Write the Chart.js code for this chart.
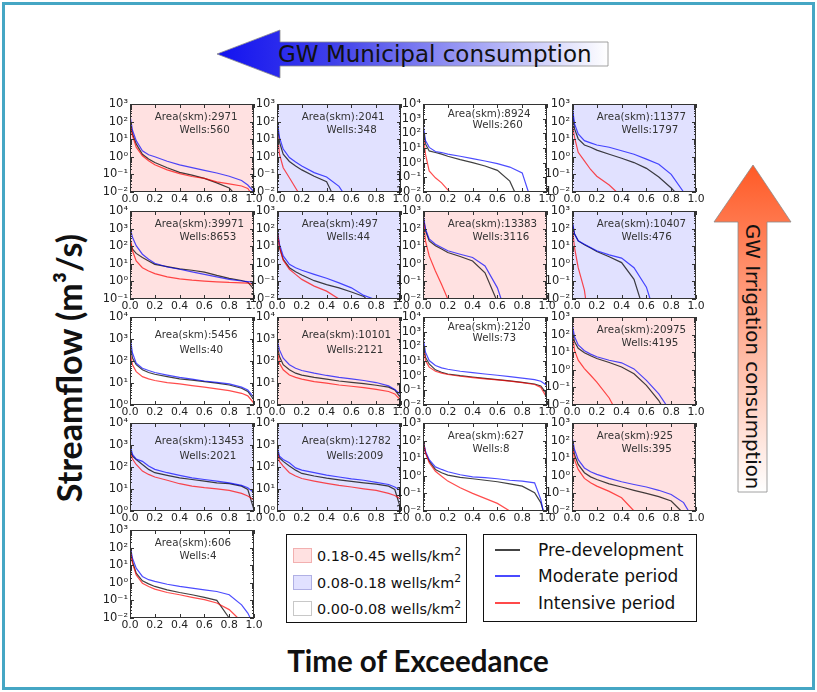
<!DOCTYPE html>
<html>
<head>
<meta charset="utf-8">
<script src="https://cdn.jsdelivr.net/npm/chart.js@4.4.1/dist/chart.umd.min.js"></script>
<style>
  body { margin: 0; width: 817px; height: 692px; background: #fff; position: relative; overflow: hidden; font-family: "DejaVu Sans", sans-serif; }
  #frame { position: absolute; left: 2px; top: 2px; width: 807px; height: 682px; border: 3px solid #45a6c4; }
  canvas.panel { position: absolute; }
  #arrows { position: absolute; left: 0; top: 0; }
  .biglab { position: absolute; font-family: Lato, sans-serif; font-weight: bold; color: #111; white-space: nowrap; }
  #ylab { left: 68px; top: 368px; font-size: 34px; transform: translate(-50%, -50%) rotate(-90deg); }
  #xlab { left: 418px; top: 660px; font-size: 29.5px; transform: translate(-50%, -50%); }
  .legend { position: absolute; border: 1.5px solid #111; background: #fff; color: #111; }
  #leg1 { left: 286px; top: 534px; width: 179px; height: 87px; }
  #leg2 { left: 483px; top: 534px; width: 212px; height: 86px; }
  .sw { position: absolute; width: 17px; height: 13px; }
  .ln { position: absolute; width: 25px; height: 2px; }
  #leg1 .txt { position: absolute; font-size: 14.4px; white-space: nowrap; transform: translateY(-50%); }
  #leg2 .txt { position: absolute; font-size: 17px; white-space: nowrap; transform: translateY(-50%); }
  sup { font-size: 0.75em; line-height: 0; }
</style>
</head>
<body>
<div id="frame"></div>

<svg id="arrows" width="817" height="692">
  <defs>
    <linearGradient id="gBlue" x1="217" y1="0" x2="608" y2="0" gradientUnits="userSpaceOnUse">
      <stop offset="0" stop-color="#1212f0"/>
      <stop offset="0.3" stop-color="#4040ea"/>
      <stop offset="1" stop-color="#ffffff"/>
    </linearGradient>
    <linearGradient id="gOrange" x1="0" y1="165" x2="0" y2="492" gradientUnits="userSpaceOnUse">
      <stop offset="0" stop-color="#ff5a26"/>
      <stop offset="1" stop-color="#ffffff"/>
    </linearGradient>
  </defs>
  <polygon points="217,54 280,30 280,42 608,42 608,66 280,66 280,78" fill="url(#gBlue)" stroke="#8a8a8a" stroke-width="0.8"/>
  <text x="278" y="62" font-family="DejaVu Sans" font-size="23" fill="#111">GW Municipal consumption</text>
  <polygon points="753,165 791,222 767,222 767,492 738,492 738,222 714,222" fill="url(#gOrange)" stroke="#8a8a8a" stroke-width="0.8"/>
  <text transform="translate(746,224) rotate(90)" font-family="DejaVu Sans" font-size="19.8" fill="#111">GW Irrigation consumption</text>
</svg>

<div id="ylab" class="biglab">Streamflow (m³/s)</div>
<div id="xlab" class="biglab">Time of Exceedance</div>

<div id="leg1" class="legend">
  <div class="sw" style="left:6px;top:13px;background:#ffe1e1;border:1px solid #f2b0b0"></div>
  <div class="txt" style="left:30px;top:21px">0.18-0.45 wells/km<sup>2</sup></div>
  <div class="sw" style="left:6px;top:40px;background:#e1e1ff;border:1px solid #b0b0e4"></div>
  <div class="txt" style="left:30px;top:48px">0.08-0.18 wells/km<sup>2</sup></div>
  <div class="sw" style="left:6px;top:66px;background:#fff;border:1px solid #c8c8c8"></div>
  <div class="txt" style="left:30px;top:74px">0.00-0.08 wells/km<sup>2</sup></div>
</div>

<div id="leg2" class="legend">
  <div class="ln" style="left:11px;top:14px;background:#444"></div>
  <div class="txt" style="left:54px;top:15px">Pre-development</div>
  <div class="ln" style="left:11px;top:40px;background:#4a4aff"></div>
  <div class="txt" style="left:54px;top:41px">Moderate period</div>
  <div class="ln" style="left:11px;top:67px;background:#ff4a4a"></div>
  <div class="txt" style="left:54px;top:68px">Intensive period</div>
</div>

<script>
// time of exceedance grid shared by all curves
const exceedance = [0, 0.02, 0.05, 0.1, 0.15, 0.2, 0.3, 0.4, 0.5, 0.6, 0.7, 0.8, 0.9, 0.95, 1.0];
const xTickValues = [0, 0.2, 0.4, 0.6, 0.8, 1.0];

const areas = [2971, 2041, 8924, 11377, 39971, 497, 13383, 10407, 5456, 10101, 2120, 20975, 13453, 12782, 627, 925, 606];
const wells = [560, 348, 260, 1797, 8653, 44, 3116, 476, 40, 2121, 73, 4195, 2021, 2009, 8, 395, 4];
const density = ['high', 'mid', 'low', 'mid', 'high', 'mid', 'high', 'mid', 'low', 'high', 'low', 'high', 'mid', 'mid', 'low', 'high', 'low'];
const yMinExp = [-2, -2, -2, -2, -1, -2, -2, -2, 0, 0, -2, -2, 0, 0, -2, -2, -2];
const yMaxExp = [3, 3, 4, 3, 4, 3, 3, 3, 4, 4, 4, 3, 4, 4, 3, 3, 3];

// streamflow (m3/s) on the exceedance grid; null = below the axis
const preDev = [
  [100, 20, 5.4, 1.4, 0.76, 0.47, 0.24, 0.13, 0.091, 0.059, 0.033, 0.017, null, null, null],
  [95, 6.8, 1.4, 0.54, 0.3, 0.18, 0.079, 0.038, null, null, null, null, null, null, null],
  [270, 19, 6.3, 4.9, 3.8, 2.75, 1.6, 1.0, 0.59, 0.3, 0.055, null, null, null, null],
  [710, 40, 10.5, 4.7, 3.5, 2.4, 1.4, 0.83, 0.47, 0.22, 0.071, 0.017, null, null, null],
  [200, 69, 39, 23, 14.5, 9.3, 6.9, 5.2, 4.3, 3.4, 2.2, 1.5, 1.12, 0.9, 0.35],
  [95, 8.5, 1.8, 0.6, 0.35, 0.23, 0.11, 0.066, 0.043, 0.025, 0.014, null, null, null, null],
  [560, 78, 20, 10.7, 6.9, 4.4, 2.6, 1.45, 0.31, null, null, null, null, null, null],
  [290, 50, 20, 12, 7.9, 5.0, 2.5, 1.17, 0.13, null, null, null, null, null, null],
  [650, 135, 68, 40, 30, 25, 19.5, 15.5, 13.5, 11.5, 9.8, 8.1, 5.8, 4.1, 1.7],
  [550, 160, 68, 40, 28, 23, 18, 15, 12.3, 10.7, 9.3, 7.9, 6.5, 4.8, 2.0],
  [195, 18, 6.3, 2.5, 1.7, 1.3, 1.0, 0.81, 0.66, 0.54, 0.44, 0.35, 0.27, 0.2, 0.056],
  [230, 40, 16.6, 9.3, 6.3, 4.4, 2.6, 1.45, 0.6, 0.13, 0.018, null, null, null, null],
  [740, 310, 220, 130, 78, 55, 42, 32, 27, 23, 19, 17.4, 13.5, 9.5, 1.12],
  [620, 260, 180, 110, 72, 51, 39, 31, 26, 22, 19, 16.6, 13.5, 9.5, 1.12],
  [115, 20, 6.8, 2.3, 1.5, 1.1, 0.81, 0.68, 0.56, 0.46, 0.35, 0.26, 0.11, 0.03, null],
  [115, 16, 4.4, 1.5, 0.87, 0.62, 0.35, 0.23, 0.15, 0.1, 0.065, 0.037, null, null, null],
  [115, 16, 3.5, 1.3, 0.87, 0.62, 0.4, 0.28, 0.21, 0.15, 0.1, null, null, null, null]
];
const preDevEnd = [0.83, 0.44, 0.74, 0.83, null, 0.72, 0.59, 0.55, null, null, null, 0.72, null, null, 0.97, 0.88, 0.8];

const moderate = [
  [230, 32, 8.3, 2.2, 1.3, 1.0, 0.56, 0.35, 0.24, 0.17, 0.12, 0.079, 0.045, 0.025, null],
  [150, 12.6, 2.75, 0.91, 0.51, 0.3, 0.126, 0.071, 0.021, null, null, null, null, null, null],
  [460, 32, 11, 5.8, 4.9, 3.8, 2.75, 1.9, 1.3, 0.87, 0.5, 0.2, null, null, null],
  [1000, 76, 20, 8.3, 6.2, 4.7, 3.5, 2.2, 1.4, 0.74, 0.38, 0.1, null, null, null],
  [1200, 320, 107, 35, 18, 10.7, 6.6, 4.9, 3.5, 2.5, 1.8, 1.3, 1.05, 0.98, 0.91],
  [120, 13, 2.8, 0.93, 0.6, 0.43, 0.25, 0.15, 0.083, 0.043, 0.016, null, null, null, null],
  [710, 95, 26, 13, 8.5, 5.5, 3.5, 2.3, 0.76, 0.043, null, null, null, null, null],
  [290, 50, 20, 13, 8.5, 5.5, 3.2, 2.1, 0.6, 0.047, null, null, null, null, null],
  [1300, 230, 79, 47, 37, 30, 23, 18, 15, 12.3, 10.7, 9.1, 6.5, 4.8, 2.2],
  [930, 320, 135, 68, 47, 37, 28, 22, 18, 15.5, 13, 10.5, 7.4, 5.1, 2.9],
  [430, 40, 10.7, 4.9, 3.4, 2.75, 2.0, 1.6, 1.3, 1.07, 0.87, 0.69, 0.54, 0.42, 0.21],
  [460, 78, 26, 12, 7.8, 5.5, 3.5, 2.5, 1.12, 0.25, 0.043, null, null, null, null],
  [1050, 370, 230, 180, 110, 78, 55, 42, 32, 27, 23, 19, 14.5, 11.5, 6.8],
  [870, 310, 220, 155, 91, 72, 55, 43, 35, 29, 25, 20, 16, 12.3, 8.1],
  [115, 25, 8.3, 3.2, 2.3, 1.7, 1.15, 0.87, 0.78, 0.68, 0.56, 0.5, 0.4, 0.046, null],
  [180, 31, 8.3, 2.8, 1.7, 1.2, 0.71, 0.46, 0.32, 0.23, 0.15, 0.087, 0.03, null, null],
  [140, 25, 6.8, 2.3, 1.5, 1.2, 0.83, 0.62, 0.5, 0.4, 0.32, 0.21, 0.056, 0.019, null]
];
const moderateEnd = [1.0, 0.53, 0.85, 0.9, null, 0.78, 0.63, 0.63, null, null, null, 0.76, null, null, 0.97, 0.94, 0.97];

const intensive = [
  [76, 16, 3.5, 1.15, 0.6, 0.35, 0.18, 0.11, 0.076, 0.059, 0.038, 0.029, 0.022, 0.016, null],
  [32, 1.4, 0.24, 0.065, 0.017, null, null, null, null, null, null, null, null, null, null],
  [120, 3.8, 0.27, 0.093, 0.042, 0.014, null, null, null, null, null, null, null, null, null],
  [95, 13, 1.8, 0.59, 0.19, 0.079, 0.025, null, null, null, null, null, null, null, null],
  [320, 55, 14.5, 6.0, 3.9, 2.75, 1.8, 1.4, 1.17, 1.05, 0.95, 0.87, 0.83, 0.79, 0.68],
  [95, 8.5, 1.6, 0.49, 0.25, 0.13, 0.054, 0.028, null, null, null, null, null, null, null],
  [460, 20, 2.8, 0.39, 0.066, null, null, null, null, null, null, null, null, null, null],
  [190, 8.5, 0.6, 0.032, null, null, null, null, null, null, null, null, null, null, null],
  [270, 68, 33, 19.5, 15.5, 13, 10.5, 9.1, 7.6, 6.5, 5.4, 4.5, 3.4, 2.6, 1.2],
  [390, 79, 40, 23, 18, 15, 11.5, 9.8, 8.1, 7.1, 6.2, 5.1, 4.1, 3.2, 1.6],
  [150, 10.7, 3.8, 2.0, 1.5, 1.2, 0.91, 0.74, 0.6, 0.51, 0.42, 0.34, 0.25, 0.16, 0.03],
  [150, 13, 3.5, 1.17, 0.49, 0.2, 0.025, null, null, null, null, null, null, null, null],
  [520, 230, 130, 65, 46, 35, 25, 17.4, 13.5, 11.5, 10.2, 8.7, 6.3, 4.8, 3.2],
  [520, 180, 110, 55, 39, 30, 23, 18, 14.5, 12.3, 10.2, 8.7, 6.3, 5.1, 3.4],
  [115, 20, 5.5, 1.8, 0.95, 0.5, 0.21, 0.1, 0.052, 0.027, null, null, null, null, null],
  [74, 8.3, 2.3, 0.71, 0.4, 0.26, 0.13, 0.056, null, null, null, null, null, null, null],
  [91, 13, 2.8, 0.95, 0.62, 0.44, 0.28, 0.21, 0.15, 0.11, 0.071, 0.03, null, null, null]
];
const intensiveEnd = [0.97, 0.17, 0.22, 0.36, null, 0.5, 0.2, 0.11, null, null, null, 0.33, null, null, 0.7, 0.5, 0.87];

// layout of the panel grid (plot areas)
const colLeft = [130, 277, 423, 572];
const rowTop = [104, 211, 317, 423, 530];
const PW = 124, PH = 88, AXW = 36, AXH = 18, PADT = 10, PADR = 12;
const bgColor = { high: '#ffe1e1', mid: '#e1e1ff', low: '#ffffff' };
const textDy = { 4: [18, 33], 5: [13.5, 26], 6: [10, 21] };
const supMap = { '-': '⁻', '0': '⁰', '1': '¹', '2': '²', '3': '³', '4': '⁴' };

function sup(n) {
  return String(n).split('').map(c => supMap[c]).join('');
}

function toPoints(vals, end, ymin) {
  const pts = [];
  exceedance.forEach((x, i) => {
    if (vals[i] !== null && (end === null || x < end)) pts.push({ x: x, y: vals[i] });
  });
  if (end !== null) pts.push({ x: end, y: ymin });
  return pts;
}

const panelPlugin = {
  id: 'panel',
  beforeDraw(chart) {
    const a = chart.chartArea, ctx = chart.ctx;
    ctx.save();
    ctx.fillStyle = chart.options.plugins.panel.bg;
    ctx.fillRect(a.left, a.top, a.right - a.left, a.bottom - a.top);
    ctx.restore();
  },
  afterDraw(chart) {
    const o = chart.options.plugins.panel;
    const a = chart.chartArea, ctx = chart.ctx;
    const xs = chart.scales.x, ys = chart.scales.y;
    ctx.save();
    ctx.strokeStyle = '#333';
    ctx.lineWidth = 1;
    ctx.beginPath();
    xTickValues.forEach(v => {
      const px = Math.round(xs.getPixelForValue(v)) + 0.5;
      ctx.moveTo(px, a.bottom); ctx.lineTo(px, a.bottom - 4);
      ctx.moveTo(px, a.top); ctx.lineTo(px, a.top + 4);
    });
    for (let e = o.lo; e <= o.hi; e++) {
      const py = Math.round(ys.getPixelForValue(Math.pow(10, e))) + 0.5;
      ctx.moveTo(a.left, py); ctx.lineTo(a.left + 4, py);
      ctx.moveTo(a.right, py); ctx.lineTo(a.right - 4, py);
      if (e < o.hi) {
        for (let m = 2; m < 10; m++) {
          const my = Math.round(ys.getPixelForValue(m * Math.pow(10, e))) + 0.5;
          ctx.moveTo(a.left, my); ctx.lineTo(a.left + 2, my);
          ctx.moveTo(a.right, my); ctx.lineTo(a.right - 2, my);
        }
      }
    }
    ctx.stroke();
    ctx.strokeRect(a.left + 0.5, a.top + 0.5, a.right - a.left - 1, a.bottom - a.top - 1);

    const dy = textDy[o.hi - o.lo];
    ctx.fillStyle = '#333';
    ctx.font = '10.3px "DejaVu Sans"';
    ctx.textBaseline = 'middle';
    ctx.textAlign = 'left';
    ctx.fillText('Area(skm):' + o.area, xs.getPixelForValue(0.2), a.top + dy[0]);
    ctx.fillText('Wells:' + o.wells, xs.getPixelForValue(0.4), a.top + dy[1]);
    ctx.restore();
  }
};

areas.forEach((area, i) => {
  const row = Math.floor(i / 4), col = i % 4;
  const lo = yMinExp[i], hi = yMaxExp[i];
  const ymin = Math.pow(10, lo);

  const canvas = document.createElement('canvas');
  canvas.className = 'panel';
  canvas.width = AXW + PW + PADR;
  canvas.height = PADT + PH + AXH;
  canvas.style.width = canvas.width + 'px';
  canvas.style.height = canvas.height + 'px';
  canvas.style.left = (colLeft[col] - AXW) + 'px';
  canvas.style.top = (rowTop[row] - PADT) + 'px';
  document.body.appendChild(canvas);

  const decades = [];
  for (let e = lo; e <= hi; e++) decades.push(Math.pow(10, e));

  new Chart(canvas, {
    type: 'line',
    data: {
      datasets: [
        { label: 'Intensive period', data: toPoints(intensive[i], intensiveEnd[i], ymin), borderColor: 'rgba(255,0,0,0.7)' },
        { label: 'Moderate period', data: toPoints(moderate[i], moderateEnd[i], ymin), borderColor: 'rgba(0,0,255,0.7)' },
        { label: 'Pre-development', data: toPoints(preDev[i], preDevEnd[i], ymin), borderColor: 'rgba(0,0,0,0.75)' }
      ]
    },
    options: {
      responsive: false,
      animation: false,
      devicePixelRatio: 1,
      events: [],
      layout: { padding: { left: 0, top: PADT, right: PADR, bottom: 0 } },
      elements: {
        line: { borderWidth: 1.2, tension: 0 },
        point: { radius: 0 }
      },
      plugins: {
        legend: { display: false },
        tooltip: { enabled: false },
        panel: { bg: bgColor[density[i]], lo: lo, hi: hi, area: area, wells: wells[i] }
      },
      scales: {
        x: {
          type: 'linear',
          min: 0,
          max: 1,
          grid: { display: false, drawTicks: false },
          border: { display: false },
          afterBuildTicks: s => { s.ticks = xTickValues.map(v => ({ value: v })); },
          afterFit: s => { s.height = AXH; },
          ticks: {
            padding: 1,
            autoSkip: false,
            maxRotation: 0,
            minRotation: 0,
            color: '#222',
            font: { family: 'DejaVu Sans', size: 10.8 },
            callback: v => Number(v).toFixed(1)
          }
        },
        y: {
          type: 'logarithmic',
          min: ymin,
          max: Math.pow(10, hi),
          grid: { display: false, drawTicks: false },
          border: { display: false },
          afterBuildTicks: s => { s.ticks = decades.map(v => ({ value: v })); },
          afterFit: s => { s.width = AXW; },
          ticks: {
            padding: 2,
            autoSkip: false,
            color: '#222',
            font: { family: 'DejaVu Sans', size: 11.5 },
            callback: v => '10' + sup(Math.round(Math.log10(v)))
          }
        }
      }
    },
    plugins: [panelPlugin]
  });
});
</script>
</body>
</html>
